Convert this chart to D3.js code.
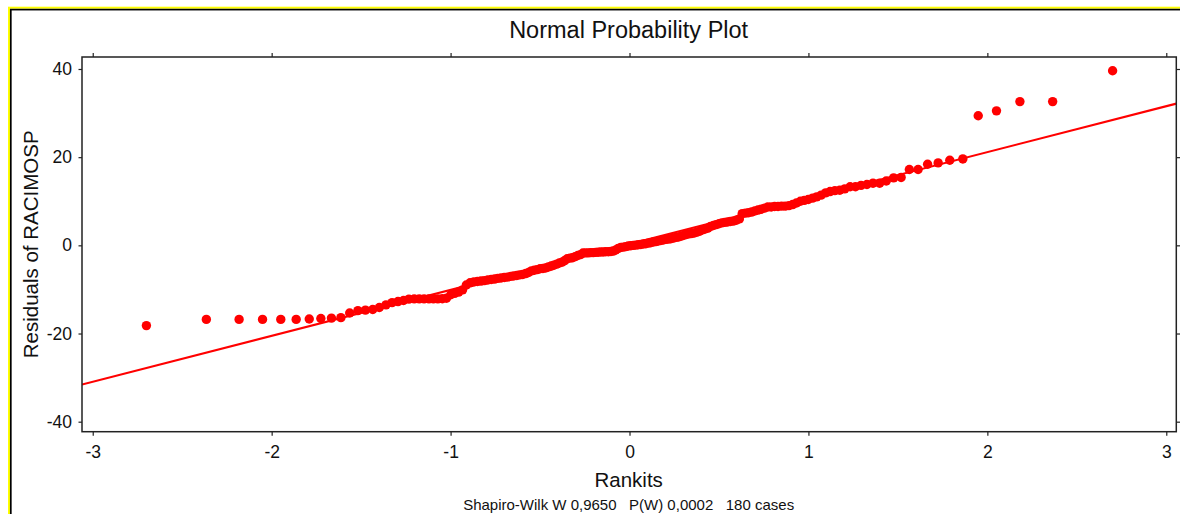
<!DOCTYPE html>
<html>
<head>
<meta charset="utf-8">
<script src="https://cdn.jsdelivr.net/npm/d3@7"></script>
<style>
  html, body { margin: 0; padding: 0; background: #fff; }
  svg { display: block; font-family: "Liberation Sans", Arial, sans-serif; }
</style>
</head>
<body>
<svg></svg>
<script>
// rankits (normal scores) for the 180 sorted residuals
const rankits = [
  -2.700, -2.365, -2.182, -2.051, -1.949, -1.863, -1.790, -1.725, -1.666, -1.613,
  -1.564, -1.518, -1.476, -1.435, -1.398, -1.361, -1.327, -1.294, -1.263, -1.233,
  -1.203, -1.175, -1.148, -1.121, -1.096, -1.071, -1.046, -1.023, -0.999, -0.977,
  -0.955, -0.933, -0.912, -0.891, -0.870, -0.850, -0.830, -0.811, -0.792, -0.773,
  -0.754, -0.736, -0.718, -0.700, -0.682, -0.665, -0.648, -0.630, -0.614, -0.597,
  -0.580, -0.564, -0.548, -0.532, -0.516, -0.500, -0.484, -0.469, -0.453, -0.438,
  -0.423, -0.407, -0.392, -0.377, -0.362, -0.348, -0.333, -0.318, -0.304, -0.289,
  -0.274, -0.260, -0.245, -0.231, -0.217, -0.203, -0.189, -0.175, -0.161, -0.147,
  -0.133, -0.118, -0.104, -0.091, -0.077, -0.063, -0.049, -0.035, -0.021, -0.007,
  0.007, 0.021, 0.035, 0.049, 0.063, 0.077, 0.091, 0.104, 0.118, 0.133,
  0.147, 0.161, 0.175, 0.189, 0.203, 0.217, 0.231, 0.245, 0.260, 0.274,
  0.289, 0.304, 0.318, 0.333, 0.348, 0.362, 0.377, 0.392, 0.407, 0.423,
  0.438, 0.453, 0.469, 0.484, 0.500, 0.516, 0.532, 0.548, 0.564, 0.580,
  0.597, 0.614, 0.630, 0.648, 0.665, 0.682, 0.700, 0.718, 0.736, 0.754,
  0.773, 0.792, 0.811, 0.830, 0.850, 0.870, 0.891, 0.912, 0.933, 0.955,
  0.977, 0.999, 1.023, 1.046, 1.071, 1.096, 1.121, 1.148, 1.175, 1.203,
  1.233, 1.263, 1.294, 1.327, 1.361, 1.398, 1.435, 1.476, 1.518, 1.564,
  1.613, 1.666, 1.725, 1.790, 1.863, 1.949, 2.051, 2.182, 2.365, 2.700
];

// residuals of RACIMOSP, sorted
const residuals = [
  -18.2, -16.8, -16.8, -16.8, -16.8, -16.8, -16.7, -16.6, -16.5, -16.4,
  -15.35, -14.8, -14.7, -14.55, -14.1, -13.5, -13.0, -12.75, -12.5, -12.2,
  -12.15, -12.15, -12.15, -12.15, -12.15, -12.15, -12.1, -12.0, -11.2, -10.9,
  -10.6, -10.1, -9.0, -8.5, -8.3, -8.2, -8.1, -8.0, -7.85, -7.75,
  -7.65, -7.5, -7.4, -7.3, -7.2, -7.05, -6.95, -6.85, -6.7, -6.6,
  -6.4, -6.15, -5.8, -5.65, -5.5, -5.3, -5.25, -5.15, -4.9, -4.7,
  -4.5, -4.25, -4.0, -3.8, -3.45, -3.05, -2.9, -2.8, -2.55, -2.3,
  -2.1, -1.75, -1.7, -1.7, -1.65, -1.65, -1.6, -1.55, -1.5, -1.5,
  -1.45, -1.45, -1.4, -1.3, -1.05, -0.7, -0.5, -0.4, -0.3, -0.15,
  -0.1, 0.0, 0.05, 0.15, 0.2, 0.3, 0.35, 0.5, 0.6, 0.75,
  0.85, 1.0, 1.1, 1.2, 1.35, 1.4, 1.5, 1.65, 1.8, 1.9,
  2.1, 2.3, 2.45, 2.6, 2.7, 2.8, 3.0, 3.2, 3.5, 3.7,
  3.9, 4.3, 4.5, 4.7, 4.9, 5.1, 5.2, 5.3, 5.4, 5.5,
  5.7, 6.0, 7.2, 7.3, 7.4, 7.55, 7.8, 8.0, 8.2, 8.45,
  8.7, 8.7, 8.8, 8.8, 8.9, 8.9, 9.0, 9.25, 9.6, 10.0,
  10.2, 10.4, 10.7, 11.0, 11.4, 11.9, 12.2, 12.4, 12.5, 12.8,
  13.3, 13.3, 13.6, 13.8, 14.1, 14.1, 14.6, 15.3, 15.4, 17.2,
  17.2, 18.4, 18.7, 19.3, 19.6, 29.4, 30.5, 32.6, 32.6, 39.6
];

const xTicks = [-3, -2, -1, 0, 1, 2, 3];
const yTicks = [-40, -20, 0, 20, 40];

// reference line
const lineIntercept = 0.3;
const lineSlope = 10.42;

const titleText = "Normal Probability Plot";
const xLabel = "Rankits";
const yLabel = "Residuals of RACIMOSP";
const footerText = "Shapiro-Wilk W 0,9650   P(W) 0,0002   180 cases";

const W = 1180, H = 514;
const plot = { left: 82, right: 1176.3, top: 57, bottom: 431.7 };

const svg = d3.select("svg")
  .attr("width", W)
  .attr("height", H);

// outer frame (yellow + black), runs off the right and bottom edges
svg.append("rect")
  .attr("x", 9).attr("y", 7.7)
  .attr("width", W + 20).attr("height", H + 20)
  .attr("fill", "none")
  .attr("stroke", "#ffff00")
  .attr("stroke-width", 2);

svg.append("rect")
  .attr("x", 10.8).attr("y", 9.6)
  .attr("width", W + 20).attr("height", H + 20)
  .attr("fill", "none")
  .attr("stroke", "#000")
  .attr("stroke-width", 1.7);

const x = d3.scaleLinear()
  .domain([-3.06, 3.056])
  .range([plot.left, plot.right]);

const y = d3.scaleLinear()
  .domain([-42.27, 42.72])
  .range([plot.bottom, plot.top]);

const fmt = d => String(d);

const axisStyle = g => {
  g.select(".domain").remove();
  g.selectAll(".tick line").attr("stroke", "#222").attr("stroke-width", 1.2);
  g.selectAll(".tick text")
    .attr("fill", "#111")
    .style("font-size", "17.5px")
    .style("font-family", "'Liberation Sans', Arial, sans-serif");
};

svg.append("g")
  .attr("transform", `translate(0,${plot.bottom})`)
  .call(d3.axisBottom(x).tickValues(xTicks).tickFormat(fmt).tickSize(4).tickPadding(10))
  .call(axisStyle);

svg.append("g")
  .attr("transform", `translate(0,${plot.top})`)
  .call(d3.axisTop(x).tickValues(xTicks).tickFormat("").tickSize(4))
  .call(axisStyle);

svg.append("g")
  .attr("transform", `translate(${plot.left},0)`)
  .call(d3.axisLeft(y).tickValues(yTicks).tickFormat(fmt).tickSize(3.5).tickPadding(6.5))
  .call(axisStyle);

svg.append("g")
  .attr("transform", `translate(${plot.right},0)`)
  .call(d3.axisRight(y).tickValues(yTicks).tickFormat("").tickSize(4))
  .call(axisStyle);

svg.append("defs").append("clipPath")
  .attr("id", "clip")
  .append("rect")
  .attr("x", plot.left).attr("y", plot.top)
  .attr("width", plot.right - plot.left)
  .attr("height", plot.bottom - plot.top);

const points = rankits.map((r, i) => ({ r, v: residuals[i] }));

const area = svg.append("g").attr("clip-path", "url(#clip)");

area.append("path")
  .datum(x.domain())
  .attr("fill", "none")
  .attr("stroke", "#ff0000")
  .attr("stroke-width", 2.1)
  .attr("d", d3.line()
    .x(d => x(d))
    .y(d => y(lineIntercept + lineSlope * d)));

area.selectAll("circle")
  .data(points)
  .join("circle")
  .attr("cx", d => x(d.r))
  .attr("cy", d => y(d.v))
  .attr("r", 4.7)
  .attr("fill", "#ff0000");

// plot box
svg.append("rect")
  .attr("x", plot.left).attr("y", plot.top)
  .attr("width", plot.right - plot.left)
  .attr("height", plot.bottom - plot.top)
  .attr("fill", "none")
  .attr("stroke", "#222")
  .attr("stroke-width", 1.5);

const midX = (plot.left + plot.right) / 2 - 0.5;

svg.append("text")
  .attr("x", midX)
  .attr("y", 38)
  .attr("text-anchor", "middle")
  .attr("fill", "#111")
  .style("font-size", "23.5px")
  .text(titleText);

svg.append("text")
  .attr("x", midX)
  .attr("y", 487)
  .attr("text-anchor", "middle")
  .attr("fill", "#111")
  .style("font-size", "20.5px")
  .text(xLabel);

svg.append("text")
  .attr("transform", "rotate(-90)")
  .attr("x", -(plot.top + plot.bottom) / 2)
  .attr("y", 38)
  .attr("text-anchor", "middle")
  .attr("fill", "#111")
  .style("font-size", "20.5px")
  .text(yLabel);

svg.append("text")
  .attr("x", midX)
  .attr("y", 510)
  .attr("text-anchor", "middle")
  .attr("fill", "#111")
  .style("font-size", "15px")
  .style("white-space", "pre")
  .text(footerText);
</script>
</body>
</html>
